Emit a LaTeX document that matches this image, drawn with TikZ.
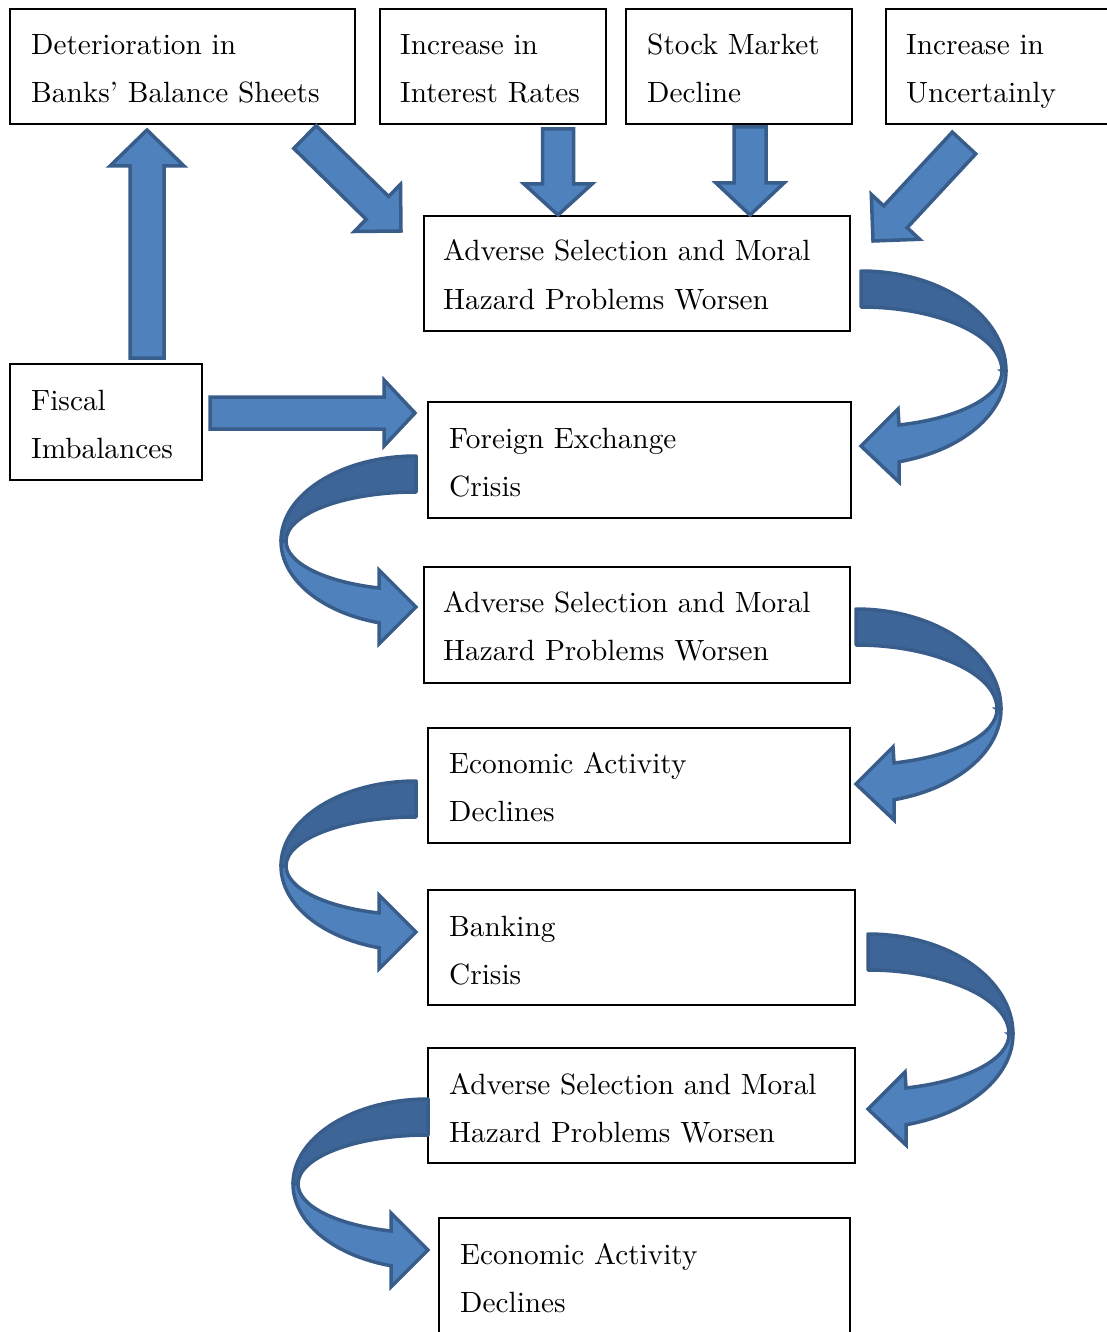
\documentclass[tikz,border=0pt]{standalone}
\usepackage{fontspec}
\setmainfont{lmroman10-regular.otf}
\usetikzlibrary{calc}
\definecolor{arrowfill}{RGB}{79,129,189}
\definecolor{arrowdark}{RGB}{61,101,151}
\definecolor{arrowline}{RGB}{56,93,138}
\newcommand\twolines[2]{\vtop{\baselineskip=48pt\hbox{#1}\hbox{#2}}}
% straight block arrow: #1 tail, #2 tip, #3 half shaft, #4 half head, #5 head length
\newcommand\blockarrow[5]{%
  \coordinate (ba-b) at ($(#2)!#5pt!(#1)$);
  \draw[barrow] ($(#1)!#3pt!-90:(#2)$) -- ($(ba-b)!#3pt!-90:(#2)$)
    -- ($(ba-b)!#4pt!-90:(#2)$) -- (#2) -- ($(ba-b)!#4pt!90:(#2)$)
    -- ($(ba-b)!#3pt!90:(#2)$) -- ($(#1)!#3pt!90:(#2)$) -- cycle;}
% curved arrow on the right side, pointing left
\newcommand\curveleft[1]{%
  \begin{scope}[shift={(#1)}]
    \draw[bdark] (0,0) arc[start angle=-90,end angle=0,x radius=145,y radius=100]
      -- (141,100) arc[start angle=0,end angle=-90,x radius=141,y radius=64] -- cycle;
    \draw[barrow] (141,100) -- (145,100)
      arc[start angle=0,end angle=74.8,x radius=145,y radius=94]
      -- (38,211) -- (0,175) -- (37,138) -- (38,154)
      arc[start angle=74.4,end angle=0,x radius=141,y radius=56] -- cycle;
  \end{scope}}
% curved arrow on the left side, pointing right
\newcommand\curveright[1]{%
  \begin{scope}[shift={(#1)},xscale=-1]
    \draw[bdark] (0,0) arc[start angle=-90,end angle=0,x radius=135,y radius=85]
      -- (130,85) arc[start angle=0,end angle=-90,x radius=130,y radius=49] -- cycle;
    \draw[barrow] (130,85) -- (135,85)
      arc[start angle=0,end angle=74.1,x radius=135,y radius=85]
      -- (37,188) -- (0,151) -- (37,114) -- (37,132)
      arc[start angle=73.46,end angle=0,x radius=130,y radius=49] -- cycle;
  \end{scope}}
\begin{document}
\begin{tikzpicture}[x=1pt,y=-1pt,
  box/.style={draw=black,line width=1.8pt,anchor=north west,inner sep=0pt,outer sep=0pt},
  txt/.style={anchor=base west,inner sep=0pt,font=\fontsize{29.3}{48}\selectfont},
  barrow/.style={fill=arrowfill,draw=arrowline,line width=3.5pt,line join=miter},
  bdark/.style={fill=arrowdark,draw=arrowline,line width=3.5pt,line join=round}]
\useasboundingbox (0,0) rectangle (1107,1332);
\fill[white] (0,0) rectangle (1107,1332);
\clip (0,0) rectangle (1107,1332);

% boxes
\node[box,minimum width=345pt,minimum height=115pt] (b1) at (10,9) {};
\node[box,minimum width=226pt,minimum height=115pt] (b2) at (380,9) {};
\node[box,minimum width=226pt,minimum height=115pt] (b3) at (626,9) {};
\node[box,minimum width=240pt,minimum height=115pt] (b4) at (886,9) {};
\node[box,minimum width=426pt,minimum height=115pt] (a1) at (424,216) {};
\node[box,minimum width=192pt,minimum height=116pt] (fi) at (10,364) {};
\node[box,minimum width=423pt,minimum height=116pt] (fx) at (428,402) {};
\node[box,minimum width=426pt,minimum height=116pt] (a2) at (424,567) {};
\node[box,minimum width=422pt,minimum height=115pt] (e1) at (428,728) {};
\node[box,minimum width=427pt,minimum height=115pt] (bk) at (428,890) {};
\node[box,minimum width=427pt,minimum height=115pt] (a3) at (428,1048) {};
\node[box,minimum width=411pt,minimum height=130pt] (e2) at (439,1218) {};

% texts
\node[txt] (b1t) at ($(b1.north west)+(21,46)$) {\twolines{Deterioration in}{Banks' Balance Sheets}};
\node[txt] (b2t) at ($(b2.north west)+(20,46)$) {\twolines{Increase in}{Interest Rates}};
\node[txt] (b3t) at ($(b3.north west)+(21,46)$) {\twolines{Stock Market}{Decline}};
\node[txt] (b4t) at ($(b4.north west)+(20,46)$) {\twolines{Increase in}{Uncertainly}};
\node[txt] (a1t) at ($(a1.north west)+(19,45)$) {\twolines{Adverse Selection and Moral}{Hazard Problems Worsen}};
\node[txt] (fit) at ($(fi.north west)+(21,46)$) {\twolines{Fiscal}{Imbalances}};
\node[txt] (fxt) at ($(fx.north west)+(21,46)$) {\twolines{Foreign Exchange}{Crisis}};
\node[txt] (a2t) at ($(a2.north west)+(19,45)$) {\twolines{Adverse Selection and Moral}{Hazard Problems Worsen}};
\node[txt] (e1t) at ($(e1.north west)+(21,45)$) {\twolines{Economic Activity}{Declines}};
\node[txt] (bkt) at ($(bk.north west)+(21,46)$) {\twolines{Banking}{Crisis}};
\node[txt] (a3t) at ($(a3.north west)+(21,46)$) {\twolines{Adverse Selection and Moral}{Hazard Problems Worsen}};
\node[txt] (e2t) at ($(e2.north west)+(21,46)$) {\twolines{Economic Activity}{Declines}};

% straight block arrows
\coordinate (upT) at (147,358);  \coordinate (upH) at (147,130);
\coordinate (dgT) at (305,137);  \coordinate (dgH) at (401,231);
\coordinate (irT) at (558,129);  \coordinate (irH) at (558,215);
\coordinate (smT) at (750,127);  \coordinate (smH) at (750,215);
\coordinate (unT) at (964,143);  \coordinate (unH) at (873,241);
\coordinate (fiT) at (210,413);  \coordinate (fiH) at (415,413);
\blockarrow{upT}{upH}{17}{37}{36}
\blockarrow{dgT}{dgH}{16}{33}{33}
\blockarrow{irT}{irH}{15.5}{34}{31}
\blockarrow{smT}{smH}{16}{34}{32}
\blockarrow{unT}{unH}{16}{33}{33}
\blockarrow{fiT}{fiH}{16}{33}{31}

% curved arrows
\coordinate (r1) at (861,271);
\coordinate (r2) at (856,609);
\coordinate (r3) at (868,934);
\coordinate (l1) at (416,456);
\coordinate (l2) at (416,781);
\coordinate (l3) at (428,1099);
\curveleft{r1}
\curveleft{r2}
\curveleft{r3}
\curveright{l1}
\curveright{l2}
\curveright{l3}
\end{tikzpicture}
\end{document}
